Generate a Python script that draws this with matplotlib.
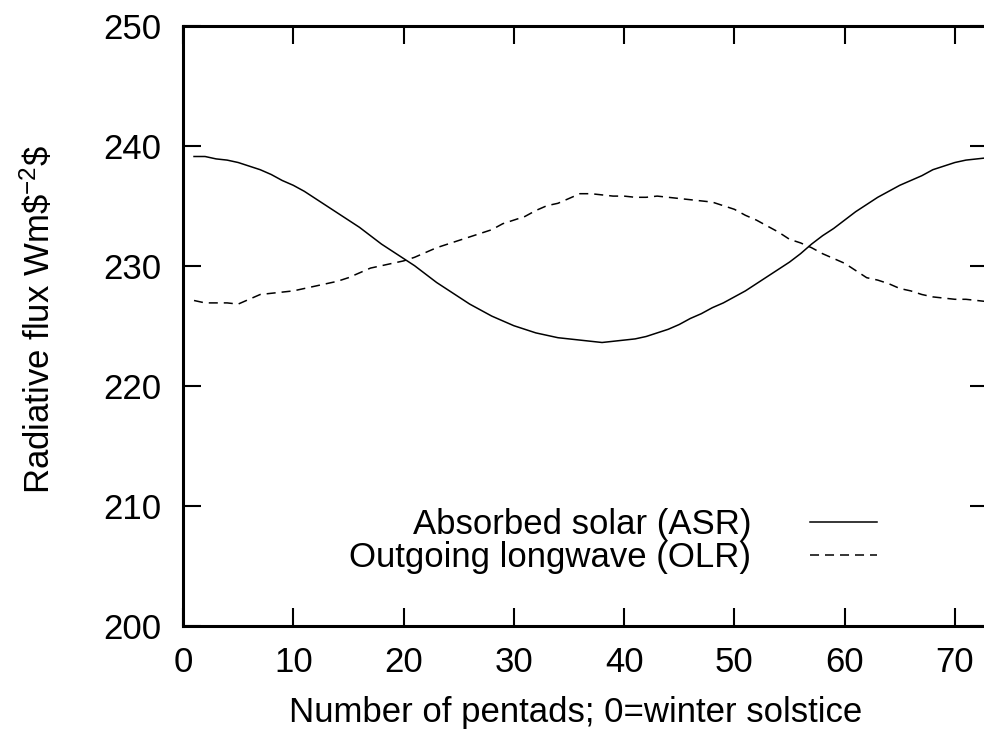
import matplotlib
matplotlib.use("Agg")
import matplotlib.pyplot as plt

plt.rcParams['font.family'] = ['Liberation Sans', 'DejaVu Sans']
plt.rcParams['mathtext.fontset'] = 'custom'
plt.rcParams['mathtext.rm'] = 'Liberation Sans'
plt.rcParams['mathtext.it'] = 'Liberation Sans:italic'
plt.rcParams['lines.scale_dashes'] = False

pentads = list(range(1, 74))
asr = [239.1, 239.1, 238.9, 238.8, 238.6, 238.3, 238.0, 237.6, 237.1, 236.7,
       236.2, 235.6, 235.0, 234.4, 233.8, 233.2, 232.5, 231.8, 231.2, 230.6,
       230.0, 229.3, 228.6, 228.0, 227.4, 226.8, 226.3, 225.8, 225.4, 225.0,
       224.7, 224.4, 224.2, 224.0, 223.9, 223.8, 223.7, 223.6, 223.7, 223.8,
       223.9, 224.1, 224.4, 224.7, 225.1, 225.6, 226.0, 226.5, 226.9, 227.4,
       227.9, 228.5, 229.1, 229.7, 230.3, 231.0, 231.8, 232.5, 233.1, 233.8,
       234.5, 235.1, 235.7, 236.2, 236.7, 237.1, 237.5, 238.0, 238.3, 238.6,
       238.8, 238.9, 239.0]
olr = [227.1, 226.9, 226.9, 226.9, 226.8, 227.2, 227.6, 227.7, 227.8, 227.9,
       228.1, 228.3, 228.5, 228.7, 229.0, 229.4, 229.8, 230.0, 230.2, 230.4,
       230.7, 231.1, 231.5, 231.8, 232.1, 232.4, 232.7, 233.0, 233.5, 233.8,
       234.1, 234.6, 235.0, 235.2, 235.6, 236.0, 236.0, 235.9, 235.8, 235.8,
       235.7, 235.7, 235.8, 235.7, 235.6, 235.5, 235.4, 235.3, 235.0, 234.7,
       234.2, 233.8, 233.3, 232.8, 232.2, 231.9, 231.5, 231.0, 230.6, 230.2,
       229.6, 229.0, 228.8, 228.5, 228.1, 227.9, 227.6, 227.4, 227.3, 227.2,
       227.2, 227.1, 227.0]
labels = ["Absorbed solar (ASR)", "Outgoing longwave (OLR)"]
xticks = [0, 10, 20, 30, 40, 50, 60, 70]
yticks = [200, 210, 220, 230, 240, 250]

W, H = 984, 733
FS = 25
fig = plt.figure(figsize=(W / 100, H / 100), dpi=100)
ax = fig.add_axes([183 / W, (H - 625.7) / H, 805 / W, 600 / H])

ax.plot(pentads, asr, color='black', lw=1.1, label=labels[0])
ax.plot(pentads, olr, color='black', lw=1.1, dashes=(6.5, 4.3), label=labels[1])

ax.set_xlim(0, 73)
ax.set_ylim(200, 250)
ax.set_xticks(xticks)
ax.set_yticks(yticks)
for s in ax.spines.values():
    s.set_linewidth(2.2)
ax.tick_params(direction='in', length=13, width=1.5, top=True, right=True,
               labelsize=FS)
ax.tick_params(axis='y', pad=15.5)
ax.tick_params(axis='x', pad=14.5)

ax.set_xlabel("Number of pentads; 0=winter solstice", fontsize=FS)
ax.xaxis.set_label_coords((576 - 183) / 805, -(696 - 625.7) / 600)
ax.xaxis.label.set_verticalalignment('top')
ax.set_ylabel(r"Radiative flux Wm\$$^{-2}$\$", fontsize=FS)
ax.yaxis.set_label_coords((57 - 183) / 805, (625.7 - 319) / 600)

leg = ax.legend(loc='lower right', bbox_to_anchor=((891 - 183) / 805, 0.063),
                frameon=False, markerfirst=False, fontsize=FS, handlelength=1.93,
                handletextpad=1.7, labelspacing=0.0, borderaxespad=0)

fig.savefig("out.png", dpi=100)
